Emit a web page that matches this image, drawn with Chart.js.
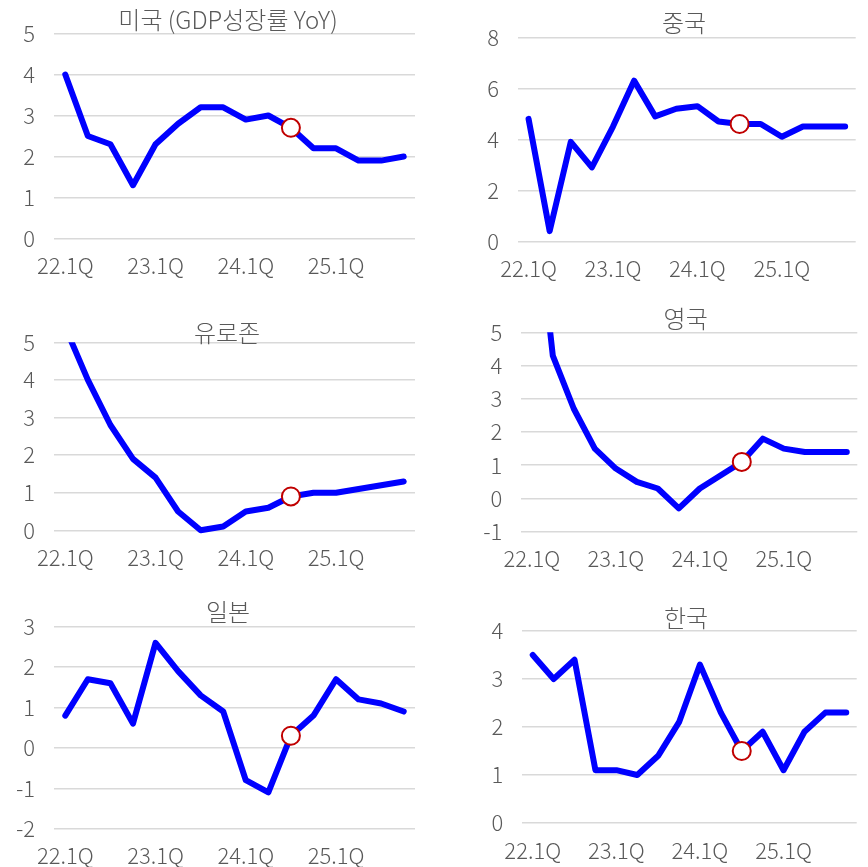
<!DOCTYPE html>
<html>
<head>
<meta charset="utf-8">
<script src="https://cdn.jsdelivr.net/npm/chart.js@4/dist/chart.umd.min.js"></script>
<style>
  html, body { margin: 0; padding: 0; background: #ffffff; overflow: hidden; width: 868px; height: 867px; }
  canvas { position: absolute; }
</style>
</head>
<body>
<canvas id="us"></canvas>
<canvas id="china"></canvas>
<canvas id="euro"></canvas>
<canvas id="uk"></canvas>
<canvas id="japan"></canvas>
<canvas id="korea"></canvas>
<script>
// Quarterly real GDP growth, year over year (%)
const quarters = ['22.1Q', '22.2Q', '22.3Q', '22.4Q', '23.1Q', '23.2Q', '23.3Q', '23.4Q',
                  '24.1Q', '24.2Q', '24.3Q', '24.4Q', '25.1Q', '25.2Q', '25.3Q', '25.4Q'];

const usGrowth    = [4.0, 2.5, 2.3, 1.3, 2.3, 2.8, 3.2, 3.2, 2.9, 3.0, 2.7, 2.2, 2.2, 1.9, 1.9, 2.0];
const chinaGrowth = [4.8, 0.4, 3.9, 2.9, 4.5, 6.3, 4.9, 5.2, 5.3, 4.7, 4.6, 4.6, 4.1, 4.5, 4.5, 4.5];
const euroGrowth  = [5.4, 4.0, 2.8, 1.9, 1.4, 0.5, 0.0, 0.1, 0.5, 0.6, 0.9, 1.0, 1.0, 1.1, 1.2, 1.3];
const ukGrowth    = [10.0, 4.3, 2.7, 1.5, 0.9, 0.5, 0.3, -0.3, 0.3, 0.7, 1.1, 1.8, 1.5, 1.4, 1.4, 1.4];
const japanGrowth = [0.8, 1.7, 1.6, 0.6, 2.6, 1.9, 1.3, 0.9, -0.8, -1.1, 0.3, 0.8, 1.7, 1.2, 1.1, 0.9];
const koreaGrowth = [3.5, 3.0, 3.4, 1.1, 1.1, 1.0, 1.4, 2.1, 3.3, 2.3, 1.5, 1.9, 1.1, 1.9, 2.3, 2.3];

// quarter highlighted with a hollow marker
const markedQuarter = '24.3Q';

// quarters shown as tick labels on the category axis
const tickQuarters = ['22.1Q', '23.1Q', '24.1Q', '25.1Q'];

const panelTitles = ['미국 (GDP성장률 YoY)', '중국', '유로존', '영국', '일본', '한국'];
const yMins  = [0, 0, 0, -1, -2, 0];
const yMaxes = [5, 8, 5, 5, 3, 4];
const ySteps = [1, 2, 1, 1, 1, 1];

const FONT = "'Noto Sans CJK KR', 'Noto Sans', sans-serif";
const TEXT_COLOR = '#595959';
const X_AXIS_H = 40;

// canvas rectangles, plot areas and title anchors for the 3x2 grid
const panels = [
  { id: 'us',    x: 0,   y: 0,   w: 434, h: 290, area: { l: 54,   r: 415,   t: 33.5, b: 238.5 }, tx: 228, ty: 20 },
  { id: 'china', x: 434, y: 0,   w: 434, h: 290, area: { l: 84,   r: 421.7, t: 37.3, b: 241.3 }, tx: 250, ty: 23 },
  { id: 'euro',  x: 0,   y: 290, w: 434, h: 290, area: { l: 54,   r: 415,   t: 52.3, b: 240.3 }, tx: 227, ty: 42.5 },
  { id: 'uk',    x: 434, y: 290, w: 434, h: 290, area: { l: 87.3, r: 423.3, t: 42.3, b: 241.7 }, tx: 251.7, ty: 29 },
  { id: 'japan', x: 0,   y: 580, w: 434, h: 290, area: { l: 54,   r: 415,   t: 46.7, b: 248.7 }, tx: 228, ty: 31.7 },
  { id: 'korea', x: 434, y: 580, w: 434, h: 290, area: { l: 88.3, r: 422.7, t: 51,   b: 243 },   tx: 252, ty: 38 }
];
const seriesList = [usGrowth, chinaGrowth, euroGrowth, ukGrowth, japanGrowth, koreaGrowth];

// draws each panel's heading at a fixed spot over the plot
const panelTitle = {
  id: 'panelTitle',
  afterDraw(chart, args, opts) {
    const ctx = chart.ctx;
    ctx.save();
    ctx.font = '300 ' + opts.size + 'px ' + FONT;
    ctx.fillStyle = TEXT_COLOR;
    ctx.textAlign = 'center';
    ctx.textBaseline = 'middle';
    ctx.fillText(opts.text, opts.x, opts.y);
    ctx.restore();
  }
};

const markIndex = quarters.indexOf(markedQuarter);

panels.forEach((p, k) => {
  const cv = document.getElementById(p.id);
  cv.width = p.w;
  cv.height = p.h;
  cv.style.left = p.x + 'px';
  cv.style.top = p.y + 'px';

  new Chart(cv, {
    type: 'line',
    data: {
      labels: quarters,
      datasets: [{
        data: seriesList[k],
        borderColor: '#0000FF',
        borderWidth: 6,
        borderJoinStyle: 'round',
        borderCapStyle: 'round',
        tension: 0,
        fill: false,
        pointRadius: quarters.map((q, i) => (i === markIndex ? 9 : 0)),
        pointHoverRadius: quarters.map((q, i) => (i === markIndex ? 9 : 0)),
        pointBackgroundColor: '#FFFFFF',
        pointBorderColor: '#C00000',
        pointBorderWidth: 2,
        clip: { left: false, top: 0, right: false, bottom: false }
      }]
    },
    options: {
      responsive: false,
      animation: false,
      devicePixelRatio: 1,
      events: [],
      layout: {
        padding: { left: 0, top: p.area.t, right: p.w - p.area.r, bottom: p.h - p.area.b - X_AXIS_H }
      },
      plugins: {
        legend: { display: false },
        tooltip: { enabled: false },
        panelTitle: { text: panelTitles[k], x: p.tx, y: p.ty, size: 24 }
      },
      scales: {
        x: {
          type: 'category',
          offset: true,
          grid: { display: false },
          border: { display: false },
          ticks: {
            autoSkip: false,
            maxRotation: 0,
            padding: 6,
            color: TEXT_COLOR,
            font: { family: FONT, size: 22, weight: 300 },
            callback(value) {
              const lab = this.getLabelForValue(value);
              return tickQuarters.includes(lab) ? lab : '';
            }
          },
          afterFit(s) { s.height = X_AXIS_H; s.paddingLeft = 0; s.paddingRight = 0; }
        },
        y: {
          min: yMins[k],
          max: yMaxes[k],
          ticks: {
            stepSize: ySteps[k],
            padding: 19,
            color: TEXT_COLOR,
            font: { family: FONT, size: 22, weight: 300 }
          },
          grid: { color: '#D9D9D9', lineWidth: 1.5, drawTicks: false },
          border: { display: false },
          afterFit(s) { s.width = p.area.l; s.paddingTop = 0; s.paddingBottom = 0; }
        }
      }
    },
    plugins: [panelTitle]
  });
});
</script>
</body>
</html>
